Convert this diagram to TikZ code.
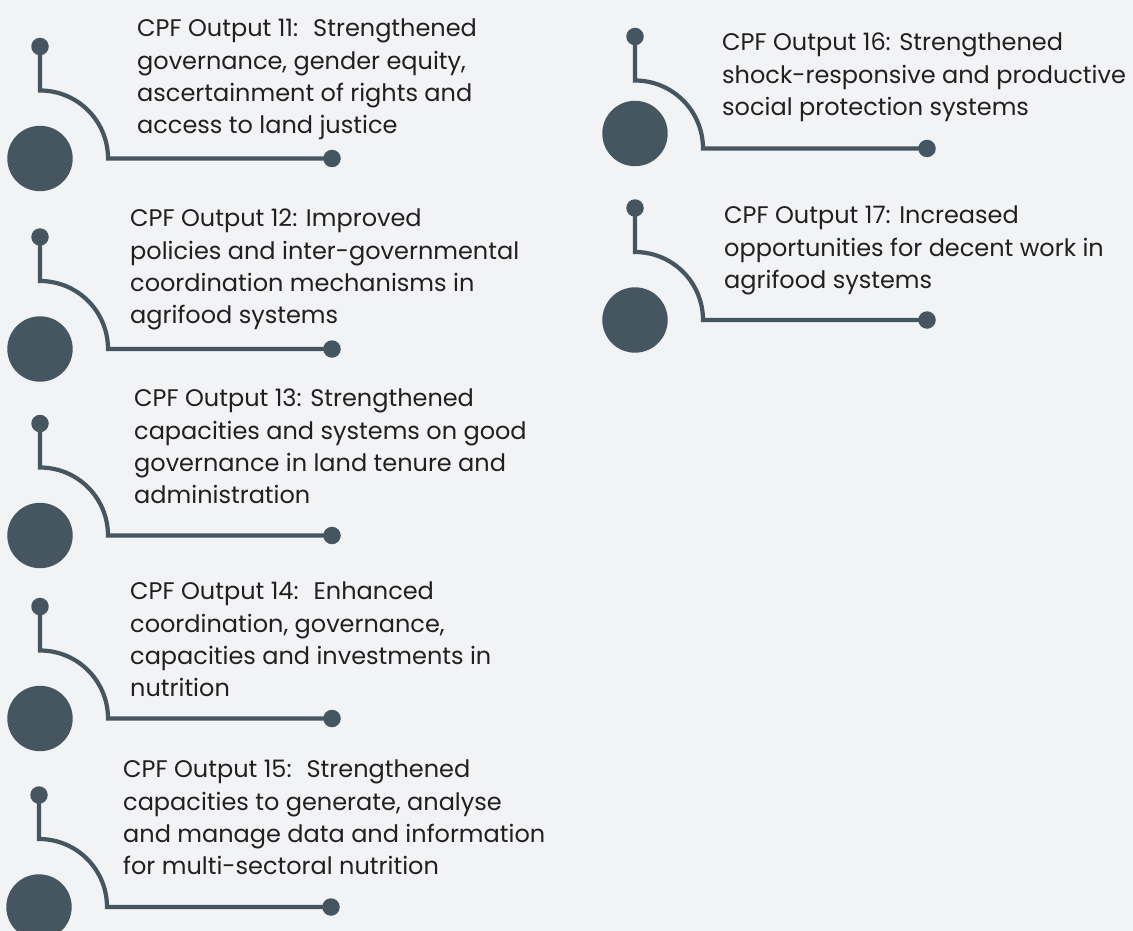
\documentclass[tikz,border=0pt]{standalone}
\usepackage{fontspec}
\setmainfont{Poppins}
\definecolor{slate}{HTML}{455660}
\definecolor{bgc}{HTML}{F1F3F5}
\definecolor{ink}{HTML}{231F20}
\newcommand\outputitem[4]{%
  \coordinate (k#1) at (#2,#3-68);
  \coordinate (a#1) at (#2+68,#3);
  \node[bigdot] (c#1) at (#2,#3+#4) {};
  \node[smalldot] (t#1) at (#2,#3-112) {};
  \node[smalldot] (e#1) at (#2+292,#3) {};
  \draw[link] (t#1.center) -- (k#1) .. controls +(37.6,0) and +(0,-37.6) .. (a#1) -- (e#1.center);
}
\begin{document}
\begin{tikzpicture}[x=1pt,y=-1pt,
  bigdot/.style={circle,fill=slate,inner sep=0pt,minimum size=65.4pt},
  smalldot/.style={circle,fill=slate,inner sep=0pt,minimum size=17.5pt},
  link/.style={draw=slate,line width=4.2pt},
  outtext/.style={anchor=north west,inner sep=0pt,align=left,text=ink,font=\fontsize{24}{32.2}\selectfont}]
\fill[bgc] (0,0) rectangle (1133,931);
\useasboundingbox (0,0) rectangle (1133,931);
\outputitem{11}{40}{158.5}{0}
\outputitem{12}{40}{349}{0}
\outputitem{13}{40}{535.5}{0}
\outputitem{14}{40}{718.5}{0}
\outputitem{15}{39}{907}{0}
\outputitem{16}{635}{148.5}{-15}
\outputitem{17}{635}{320}{0}
\node[outtext] (x11) at (137,19) {CPF Output 11:~ Strengthened\\governance, gender equity,\\ascertainment of rights and\\access to land justice};
\node[outtext] (x12) at (130,209) {CPF Output 12: Improved\\policies and inter-governmental\\coordination mechanisms in\\agrifood systems};
\node[outtext] (x13) at (134,389) {CPF Output 13: Strengthened\\capacities and systems on good\\governance in land tenure and\\administration};
\node[outtext] (x14) at (130,582) {CPF Output 14:~ Enhanced\\coordination, governance,\\capacities and investments in\\nutrition};
\node[outtext] (x15) at (123,760) {CPF Output 15:~ Strengthened\\capacities to generate, analyse\\and manage data and information\\for multi-sectoral nutrition};
\node[outtext] (x16) at (722,33) {CPF Output 16: Strengthened\\shock-responsive and productive\\social protection systems};
\node[outtext] (x17) at (724,206) {CPF Output 17: Increased\\opportunities for decent work in\\agrifood systems};
\end{tikzpicture}
\end{document}
